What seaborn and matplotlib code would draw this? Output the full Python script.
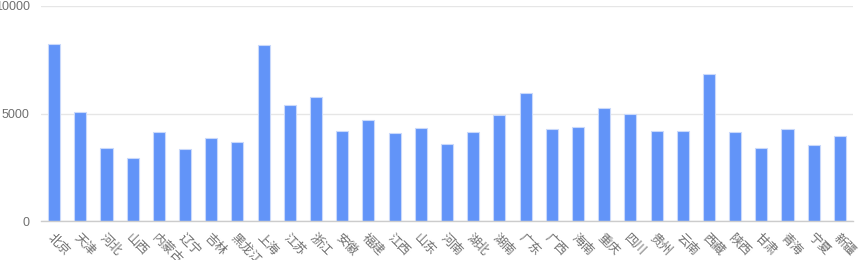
import matplotlib
matplotlib.use("Agg")
import matplotlib.pyplot as plt
import seaborn as sns
import pandas as pd

provinces = ["北京", "天津", "河北", "山西", "内蒙古", "辽宁", "吉林", "黑龙江", "上海", "江苏",
             "浙江", "安徽", "福建", "江西", "山东", "河南", "湖北", "湖南", "广东", "广西",
             "海南", "重庆", "四川", "贵州", "云南", "西藏", "陕西", "甘肃", "青海", "宁夏", "新疆"]
values = [8210, 5090, 3380, 2930, 4150, 3370, 3860, 3680, 8170, 5390,
          5780, 4200, 4690, 4110, 4320, 3590, 4130, 4910, 5950, 4280,
          4370, 5250, 4980, 4200, 4200, 6830, 4130, 3410, 4280, 3550, 3940]
y_ticks = [0, 5000, 10000]

sns.set_theme(style="white")
plt.rcParams['font.family'] = ['Noto Sans CJK SC', 'DejaVu Sans']

df = pd.DataFrame({"province": provinces, "value": values})

fig = plt.figure(figsize=(8.6, 2.6), dpi=100)
ax = fig.add_axes([41/860, 1 - 221.3/260, (853-41)/860, (221.3-5.7)/260])
sns.barplot(data=df, x="province", y="value", color="#6294F8", width=0.46,
            saturation=1, ax=ax, edgecolor="#c9d9fb", linewidth=0.8)

ax.set_ylim(0, 10000)
ax.set_xlim(-0.5, len(provinces) - 0.5)
ax.set_yticks(y_ticks)
ax.set_yticklabels([str(t) for t in y_ticks], family=['Liberation Sans', 'DejaVu Sans'])
ax.yaxis.grid(True, color="#e6e6e6", linewidth=1)
ax.set_axisbelow(True)
for s in ["top", "right", "left"]:
    ax.spines[s].set_visible(False)
ax.spines["bottom"].set_color("#cccccc")
ax.spines["bottom"].set_linewidth(1)
ax.set_xlabel("")
ax.set_ylabel("")
ax.tick_params(axis="y", length=0, pad=8, labelsize=9, labelcolor="#707070")
ax.tick_params(axis="x", length=5, color="#cccccc", width=1, direction="out",
               labelsize=9, labelcolor="#707070", pad=2)
for lbl in ax.get_xticklabels():
    lbl.set_rotation(-45)
    lbl.set_ha("left")
    lbl.set_va("top")
    lbl.set_rotation_mode("anchor")

fig.savefig("out.png", dpi=100)
